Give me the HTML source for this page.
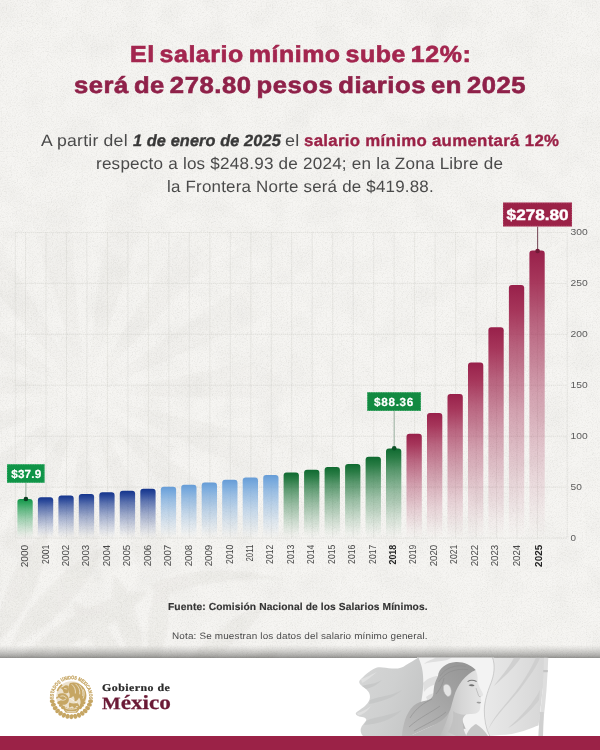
<!DOCTYPE html>
<html lang="es">
<head>
<meta charset="utf-8">
<title>El salario mínimo sube 12%</title>
<style>
html,body{margin:0;padding:0}
body{width:600px;height:750px;overflow:hidden;position:relative;background:#fff;font-family:"Liberation Sans",sans-serif}
h1,p{margin:0;font-weight:normal;font-size:inherit}
.t{position:absolute;white-space:pre;line-height:1;transform-origin:0 0;display:block;text-rendering:geometricPrecision}
.paper{position:absolute;left:0;top:0;width:600px;height:657.5px;background:#f5f4f1;overflow:hidden}
.paper .shade{position:absolute;left:0;bottom:0;width:600px;height:12.5px;background:linear-gradient(to bottom,rgba(80,80,78,0) 0%,rgba(80,80,78,.10) 25%,rgba(80,80,78,.26) 55%,rgba(80,80,78,.46) 85%,rgba(80,80,78,.62) 100%)}
.chart,.illus,.seal,.tex{position:absolute;left:0;top:0}
.rays{position:absolute;left:0;top:0;width:600px;height:658px;background:repeating-conic-gradient(from 8deg at 85px 395px,rgba(110,105,95,.03) 0deg 10deg,rgba(110,105,95,0) 12deg 22deg,rgba(110,105,95,.03) 24deg);-webkit-mask-image:radial-gradient(circle at 85px 395px,transparent 25px,#000 70px,#000 140px,transparent 225px);mask-image:radial-gradient(circle at 85px 395px,transparent 25px,#000 70px,#000 140px,transparent 225px)}
.band{position:absolute;left:0;top:735.7px;width:600px;height:14.3px;background:#9b2247}
</style>
</head>
<body>
<div class="paper"><div class="rays"></div><svg class="tex" width="600" height="658" viewBox="0 0 600 658" aria-hidden="true">
<defs>
<filter id="grain" x="0" y="0" width="100%" height="100%" color-interpolation-filters="sRGB">
<feTurbulence type="fractalNoise" baseFrequency="0.8" numOctaves="3" seed="7" result="n"/>
<feColorMatrix in="n" type="matrix" values="0 0 0 0 0.35  0 0 0 0 0.35  0 0 0 0 0.33  1.6 1.6 1.6 0 -2.25"/>
</filter>
<filter id="grain2" x="0" y="0" width="100%" height="100%" color-interpolation-filters="sRGB">
<feTurbulence type="fractalNoise" baseFrequency="0.55" numOctaves="2" seed="23" result="n"/>
<feColorMatrix in="n" type="matrix" values="0 0 0 0 1  0 0 0 0 1  0 0 0 0 1  1.4 1.4 1.4 0 -1.9"/>
</filter>
<filter id="mott" x="0" y="0" width="100%" height="100%" color-interpolation-filters="sRGB">
<feTurbulence type="fractalNoise" baseFrequency="0.035" numOctaves="2" seed="4" result="n"/>
<feColorMatrix in="n" type="matrix" values="0 0 0 0 0.55  0 0 0 0 0.55  0 0 0 0 0.52  1.2 1.2 1.2 0 -1.6"/>
</filter>
<filter id="pblur" x="-10%" y="-10%" width="120%" height="120%"><feGaussianBlur stdDeviation="1.2"/></filter>
</defs>
<g filter="url(#pblur)" fill="#e2e0db" opacity=".32">
<path d="M-17 643 C2 614 5 554 -7 531 C-23 552 -30 611 -17 643 Z"/>
<path d="M-3 642 C27 619 52 558 47 529 C22 545 -6 605 -3 642 Z"/>
<path d="M11 647 C48 633 96 579 103 548 C72 557 22 608 11 647 Z"/>
<path d="M22 658 C64 656 130 618 148 591 C115 590 47 624 22 658 Z"/>
<path d="M26 673 C65 683 138 670 163 651 C133 641 60 651 26 673 Z"/>
<path d="M124 685 C110 661 68 638 46 640 C55 660 96 685 124 685 Z"/>
<path d="M131 675 C127 646 95 608 73 601 C74 625 104 665 131 675 Z"/>
<path d="M141 669 C148 640 133 590 114 575 C107 598 119 648 141 669 Z"/>
<path d="M153 669 C170 646 174 596 163 576 C149 593 142 643 153 669 Z"/>
<path d="M179 676 C211 667 256 628 265 604 C240 608 193 646 179 676 Z"/>
<path d="M183 688 C213 690 266 669 282 652 C258 649 205 667 183 688 Z"/>
<path d="M150 585 C190 566 240 566 285 580 C245 578 195 582 158 598 Z"/>
</g>
<rect width="600" height="658" filter="url(#mott)" opacity=".05"/>
<rect width="600" height="658" filter="url(#grain)" opacity=".075"/>
<rect width="600" height="658" filter="url(#grain2)" opacity=".22"/>
</svg><div class="shade"></div></div>
<h1><span class="t" style="left:130.22px;top:43.26px;font-size:23.2px;letter-spacing:0.5px;color:#a3264f;transform:scaleX(1.0764);word-spacing:-2.4px;font-weight:bold;-webkit-text-stroke:.65px currentColor;">El salario mínimo sube 12%:</span> <span class="t" style="left:73.6px;top:74.36px;font-size:23.2px;letter-spacing:0.5px;color:#8f2149;transform:scaleX(1.1037);word-spacing:-2.4px;font-weight:bold;-webkit-text-stroke:.65px currentColor;">será de 278.80 pesos diarios en 2025</span></h1>
<p><span class="t" style="left:41.3px;top:132.63px;font-size:16.5px;letter-spacing:0.2px;color:#4a4a4a;transform:scaleX(1.0675);">A partir del</span> <em class="t" style="left:132.5px;top:132.8px;font-size:16.3px;letter-spacing:0.1px;color:#383838;transform:scaleX(1.002);font-weight:bold;font-style:italic;-webkit-text-stroke:.35px currentColor;">1 de enero de 2025</em> <span class="t" style="left:285.21px;top:132.63px;font-size:16.5px;letter-spacing:0.2px;color:#4a4a4a;transform:scaleX(1.0909);">el</span> <strong class="t" style="left:303.67px;top:132.8px;font-size:16.3px;letter-spacing:0.3px;color:#9b2247;transform:scaleX(1.0325);font-weight:bold;-webkit-text-stroke:.35px currentColor;">salario mínimo aumentará 12%</strong> <span class="t" style="left:96.16px;top:155.53px;font-size:16.5px;letter-spacing:0.2px;color:#4a4a4a;transform:scaleX(1.0366);">respecto a los $248.93 de 2024; en la Zona Libre de</span> <span class="t" style="left:167.07px;top:178.53px;font-size:16.5px;letter-spacing:0.2px;color:#4a4a4a;transform:scaleX(1.0268);">la Frontera Norte será de $419.88.</span></p>
<svg class="chart" width="600" height="750" viewBox="0 0 600 750">
<defs><linearGradient id="g1" x1="0" y1="0" x2="0" y2="1"><stop offset="0" stop-color="#12964a" stop-opacity="1.0"/><stop offset="0.1" stop-color="#1f9e52" stop-opacity="0.93"/><stop offset="0.25" stop-color="#1f9e52" stop-opacity="0.7"/><stop offset="0.5" stop-color="#1f9e52" stop-opacity="0.4"/><stop offset="0.75" stop-color="#1f9e52" stop-opacity="0.17"/><stop offset="0.92" stop-color="#1f9e52" stop-opacity="0.04"/><stop offset="1" stop-color="#1f9e52" stop-opacity="0"/></linearGradient><linearGradient id="b1" x1="0" y1="0" x2="0" y2="1"><stop offset="0" stop-color="#14348c" stop-opacity="1.0"/><stop offset="0.1" stop-color="#1f3f95" stop-opacity="0.93"/><stop offset="0.25" stop-color="#1f3f95" stop-opacity="0.7"/><stop offset="0.5" stop-color="#1f3f95" stop-opacity="0.4"/><stop offset="0.75" stop-color="#1f3f95" stop-opacity="0.17"/><stop offset="0.92" stop-color="#1f3f95" stop-opacity="0.04"/><stop offset="1" stop-color="#1f3f95" stop-opacity="0"/></linearGradient><linearGradient id="b2" x1="0" y1="0" x2="0" y2="1"><stop offset="0" stop-color="#669cd6" stop-opacity="1.0"/><stop offset="0.1" stop-color="#70a5dc" stop-opacity="0.93"/><stop offset="0.25" stop-color="#70a5dc" stop-opacity="0.7"/><stop offset="0.5" stop-color="#70a5dc" stop-opacity="0.4"/><stop offset="0.75" stop-color="#70a5dc" stop-opacity="0.17"/><stop offset="0.92" stop-color="#70a5dc" stop-opacity="0.04"/><stop offset="1" stop-color="#70a5dc" stop-opacity="0"/></linearGradient><linearGradient id="g2" x1="0" y1="0" x2="0" y2="1"><stop offset="0" stop-color="#0f6a30" stop-opacity="1.0"/><stop offset="0.1" stop-color="#197237" stop-opacity="0.93"/><stop offset="0.25" stop-color="#197237" stop-opacity="0.7"/><stop offset="0.5" stop-color="#197237" stop-opacity="0.4"/><stop offset="0.75" stop-color="#197237" stop-opacity="0.17"/><stop offset="0.92" stop-color="#197237" stop-opacity="0.04"/><stop offset="1" stop-color="#197237" stop-opacity="0"/></linearGradient><linearGradient id="m" x1="0" y1="0" x2="0" y2="1"><stop offset="0" stop-color="#98204a" stop-opacity="1.0"/><stop offset="0.1" stop-color="#a0274f" stop-opacity="0.93"/><stop offset="0.25" stop-color="#a0274f" stop-opacity="0.7"/><stop offset="0.5" stop-color="#a0274f" stop-opacity="0.4"/><stop offset="0.75" stop-color="#a0274f" stop-opacity="0.17"/><stop offset="0.92" stop-color="#a0274f" stop-opacity="0.04"/><stop offset="1" stop-color="#a0274f" stop-opacity="0"/></linearGradient></defs>
<g stroke="#c9c8c3" stroke-width="0.7" stroke-dasharray="1 1" fill="none" opacity=".85">
<line x1="15.3" y1="232.4" x2="567.2" y2="232.4"/>
<line x1="15.3" y1="283.4" x2="567.2" y2="283.4"/>
<line x1="15.3" y1="334.3" x2="567.2" y2="334.3"/>
<line x1="15.3" y1="385.2" x2="567.2" y2="385.2"/>
<line x1="15.3" y1="436.2" x2="567.2" y2="436.2"/>
<line x1="15.3" y1="487.1" x2="567.2" y2="487.1"/>
<line x1="15.3" y1="538.1" x2="567.2" y2="538.1"/>
<line x1="15.3" y1="232.4" x2="15.3" y2="538.4"/>
<line x1="567.2" y1="232.4" x2="567.2" y2="538.4"/>
<line x1="25.5" y1="232.4" x2="25.5" y2="538.4"/>
<line x1="46.0" y1="232.4" x2="46.0" y2="538.4"/>
<line x1="66.5" y1="232.4" x2="66.5" y2="538.4"/>
<line x1="86.9" y1="232.4" x2="86.9" y2="538.4"/>
<line x1="107.4" y1="232.4" x2="107.4" y2="538.4"/>
<line x1="127.9" y1="232.4" x2="127.9" y2="538.4"/>
<line x1="148.4" y1="232.4" x2="148.4" y2="538.4"/>
<line x1="168.9" y1="232.4" x2="168.9" y2="538.4"/>
<line x1="189.3" y1="232.4" x2="189.3" y2="538.4"/>
<line x1="209.8" y1="232.4" x2="209.8" y2="538.4"/>
<line x1="230.3" y1="232.4" x2="230.3" y2="538.4"/>
<line x1="250.8" y1="232.4" x2="250.8" y2="538.4"/>
<line x1="271.3" y1="232.4" x2="271.3" y2="538.4"/>
<line x1="291.7" y1="232.4" x2="291.7" y2="538.4"/>
<line x1="312.2" y1="232.4" x2="312.2" y2="538.4"/>
<line x1="332.7" y1="232.4" x2="332.7" y2="538.4"/>
<line x1="353.2" y1="232.4" x2="353.2" y2="538.4"/>
<line x1="373.7" y1="232.4" x2="373.7" y2="538.4"/>
<line x1="394.1" y1="232.4" x2="394.1" y2="538.4"/>
<line x1="414.6" y1="232.4" x2="414.6" y2="538.4"/>
<line x1="435.1" y1="232.4" x2="435.1" y2="538.4"/>
<line x1="455.6" y1="232.4" x2="455.6" y2="538.4"/>
<line x1="476.1" y1="232.4" x2="476.1" y2="538.4"/>
<line x1="496.5" y1="232.4" x2="496.5" y2="538.4"/>
<line x1="517.0" y1="232.4" x2="517.0" y2="538.4"/>
<line x1="537.5" y1="232.4" x2="537.5" y2="538.4"/>
</g>
<path d="M17.4 538.0 V502.1 a3 3 0 0 1 3 -3 h9.3 a3 3 0 0 1 3 3 V538.0 z" fill="url(#g1)"/>
<path d="M37.9 538.0 V500.2 a3 3 0 0 1 3 -3 h9.3 a3 3 0 0 1 3 3 V538.0 z" fill="url(#b1)"/>
<path d="M58.4 538.0 V498.4 a3 3 0 0 1 3 -3 h9.3 a3 3 0 0 1 3 3 V538.0 z" fill="url(#b1)"/>
<path d="M78.8 538.0 V496.9 a3 3 0 0 1 3 -3 h9.3 a3 3 0 0 1 3 3 V538.0 z" fill="url(#b1)"/>
<path d="M99.3 538.0 V495.2 a3 3 0 0 1 3 -3 h9.3 a3 3 0 0 1 3 3 V538.0 z" fill="url(#b1)"/>
<path d="M119.8 538.0 V493.7 a3 3 0 0 1 3 -3 h9.3 a3 3 0 0 1 3 3 V538.0 z" fill="url(#b1)"/>
<path d="M140.3 538.0 V491.8 a3 3 0 0 1 3 -3 h9.3 a3 3 0 0 1 3 3 V538.0 z" fill="url(#b1)"/>
<path d="M160.8 538.0 V489.8 a3 3 0 0 1 3 -3 h9.3 a3 3 0 0 1 3 3 V538.0 z" fill="url(#b2)"/>
<path d="M181.2 538.0 V487.8 a3 3 0 0 1 3 -3 h9.3 a3 3 0 0 1 3 3 V538.0 z" fill="url(#b2)"/>
<path d="M201.7 538.0 V485.5 a3 3 0 0 1 3 -3 h9.3 a3 3 0 0 1 3 3 V538.0 z" fill="url(#b2)"/>
<path d="M222.2 538.0 V482.8 a3 3 0 0 1 3 -3 h9.3 a3 3 0 0 1 3 3 V538.0 z" fill="url(#b2)"/>
<path d="M242.7 538.0 V480.4 a3 3 0 0 1 3 -3 h9.3 a3 3 0 0 1 3 3 V538.0 z" fill="url(#b2)"/>
<path d="M263.2 538.0 V477.9 a3 3 0 0 1 3 -3 h9.3 a3 3 0 0 1 3 3 V538.0 z" fill="url(#b2)"/>
<path d="M283.6 538.0 V475.4 a3 3 0 0 1 3 -3 h9.3 a3 3 0 0 1 3 3 V538.0 z" fill="url(#g2)"/>
<path d="M304.1 538.0 V472.8 a3 3 0 0 1 3 -3 h9.3 a3 3 0 0 1 3 3 V538.0 z" fill="url(#g2)"/>
<path d="M324.6 538.0 V470.0 a3 3 0 0 1 3 -3 h9.3 a3 3 0 0 1 3 3 V538.0 z" fill="url(#g2)"/>
<path d="M345.1 538.0 V467.0 a3 3 0 0 1 3 -3 h9.3 a3 3 0 0 1 3 3 V538.0 z" fill="url(#g2)"/>
<path d="M365.6 538.0 V459.8 a3 3 0 0 1 3 -3 h9.3 a3 3 0 0 1 3 3 V538.0 z" fill="url(#g2)"/>
<path d="M386.0 538.0 V451.4 a3 3 0 0 1 3 -3 h9.3 a3 3 0 0 1 3 3 V538.0 z" fill="url(#g2)"/>
<path d="M406.5 538.0 V436.8 a3 3 0 0 1 3 -3 h9.3 a3 3 0 0 1 3 3 V538.0 z" fill="url(#m)"/>
<path d="M427.0 538.0 V415.9 a3 3 0 0 1 3 -3 h9.3 a3 3 0 0 1 3 3 V538.0 z" fill="url(#m)"/>
<path d="M447.5 538.0 V397.1 a3 3 0 0 1 3 -3 h9.3 a3 3 0 0 1 3 3 V538.0 z" fill="url(#m)"/>
<path d="M468.0 538.0 V365.4 a3 3 0 0 1 3 -3 h9.3 a3 3 0 0 1 3 3 V538.0 z" fill="url(#m)"/>
<path d="M488.4 538.0 V330.3 a3 3 0 0 1 3 -3 h9.3 a3 3 0 0 1 3 3 V538.0 z" fill="url(#m)"/>
<path d="M508.9 538.0 V288.1 a3 3 0 0 1 3 -3 h9.3 a3 3 0 0 1 3 3 V538.0 z" fill="url(#m)"/>
<path d="M529.4 538.0 V253.5 a3 3 0 0 1 3 -3 h9.3 a3 3 0 0 1 3 3 V538.0 z" fill="url(#m)"/>
<g font-family="'Liberation Sans',sans-serif" font-size="9.8" fill="#5c5c5c">
<text x="570.5" y="234.9" textLength="17.2" lengthAdjust="spacingAndGlyphs">300</text>
<text x="570.5" y="285.9" textLength="17.2" lengthAdjust="spacingAndGlyphs">250</text>
<text x="570.5" y="336.8" textLength="17.2" lengthAdjust="spacingAndGlyphs">200</text>
<text x="570.5" y="387.8" textLength="17.2" lengthAdjust="spacingAndGlyphs">150</text>
<text x="570.5" y="438.7" textLength="17.2" lengthAdjust="spacingAndGlyphs">100</text>
<text x="570.5" y="489.6" textLength="11.3" lengthAdjust="spacingAndGlyphs">50</text>
<text x="570.5" y="540.6" textLength="5.5" lengthAdjust="spacingAndGlyphs">0</text>
</g>
<g font-family="'Liberation Sans',sans-serif" font-size="10.1" text-rendering="geometricPrecision" fill="#484848" text-anchor="end">
<text transform="translate(28.10 544.8) rotate(-90)" textLength="22.5" lengthAdjust="spacingAndGlyphs">2000</text>
<text transform="translate(48.54 544.8) rotate(-90)" textLength="19.1" lengthAdjust="spacingAndGlyphs">2001</text>
<text transform="translate(68.98 544.8) rotate(-90)" textLength="21.5" lengthAdjust="spacingAndGlyphs">2002</text>
<text transform="translate(89.42 544.8) rotate(-90)" textLength="21.5" lengthAdjust="spacingAndGlyphs">2003</text>
<text transform="translate(109.86 544.8) rotate(-90)" textLength="21.5" lengthAdjust="spacingAndGlyphs">2004</text>
<text transform="translate(130.30 544.8) rotate(-90)" textLength="21.5" lengthAdjust="spacingAndGlyphs">2005</text>
<text transform="translate(150.74 544.8) rotate(-90)" textLength="21.5" lengthAdjust="spacingAndGlyphs">2006</text>
<text transform="translate(171.18 544.8) rotate(-90)" textLength="21.5" lengthAdjust="spacingAndGlyphs">2007</text>
<text transform="translate(191.62 544.8) rotate(-90)" textLength="21.5" lengthAdjust="spacingAndGlyphs">2008</text>
<text transform="translate(212.06 544.8) rotate(-90)" textLength="21.5" lengthAdjust="spacingAndGlyphs">2009</text>
<text transform="translate(232.50 544.8) rotate(-90)" textLength="19.1" lengthAdjust="spacingAndGlyphs">2010</text>
<text transform="translate(252.94 544.8) rotate(-90)" textLength="16.7" lengthAdjust="spacingAndGlyphs">2011</text>
<text transform="translate(273.38 544.8) rotate(-90)" textLength="19.1" lengthAdjust="spacingAndGlyphs">2012</text>
<text transform="translate(293.82 544.8) rotate(-90)" textLength="19.1" lengthAdjust="spacingAndGlyphs">2013</text>
<text transform="translate(314.26 544.8) rotate(-90)" textLength="19.1" lengthAdjust="spacingAndGlyphs">2014</text>
<text transform="translate(334.70 544.8) rotate(-90)" textLength="19.1" lengthAdjust="spacingAndGlyphs">2015</text>
<text transform="translate(355.14 544.8) rotate(-90)" textLength="19.1" lengthAdjust="spacingAndGlyphs">2016</text>
<text transform="translate(375.58 544.8) rotate(-90)" textLength="19.1" lengthAdjust="spacingAndGlyphs">2017</text>
<text transform="translate(396.02 544.8) rotate(-90)" textLength="19.7" lengthAdjust="spacingAndGlyphs" font-weight="bold" fill="#262626">2018</text>
<text transform="translate(416.46 544.8) rotate(-90)" textLength="19.1" lengthAdjust="spacingAndGlyphs">2019</text>
<text transform="translate(436.90 544.8) rotate(-90)" textLength="21.5" lengthAdjust="spacingAndGlyphs">2020</text>
<text transform="translate(457.34 544.8) rotate(-90)" textLength="19.1" lengthAdjust="spacingAndGlyphs">2021</text>
<text transform="translate(477.78 544.8) rotate(-90)" textLength="21.5" lengthAdjust="spacingAndGlyphs">2022</text>
<text transform="translate(498.22 544.8) rotate(-90)" textLength="21.5" lengthAdjust="spacingAndGlyphs">2023</text>
<text transform="translate(519.56 544.8) rotate(-90)" textLength="21.5" lengthAdjust="spacingAndGlyphs">2024</text>
<text transform="translate(541.50 544.8) rotate(-90)" textLength="22.1" lengthAdjust="spacingAndGlyphs" font-weight="bold" fill="#262626">2025</text>
</g>
<line x1="25.9" y1="482.8" x2="25.9" y2="499.0" stroke="#a5b8aa" stroke-width="1.1"/>
<circle cx="25.9" cy="499.0" r="2.3" fill="#0a3d20"/>
<rect x="7" y="464.2" width="37.6" height="18.6" fill="#0f9447"/>
<rect x="7.4" y="464.59999999999997" width="36.8" height="17.8" fill="none" stroke="#7fd0a0" stroke-width="0.8" stroke-dasharray="1.2 1.2" opacity="0.55"/>
<text x="11.2" y="478.2" font-family="'Liberation Sans',sans-serif" font-weight="bold" font-size="11.7" fill="#fff" stroke="#fff" stroke-width="0.2" text-rendering="geometricPrecision" textLength="30" lengthAdjust="spacing">$37.9</text>
<line x1="394.2" y1="410.9" x2="394.2" y2="448.2" stroke="#a5b8aa" stroke-width="1.1"/>
<circle cx="394.2" cy="448.2" r="2.3" fill="#0c5228"/>
<rect x="367.2" y="392.2" width="53.7" height="18.7" fill="#128a41"/>
<rect x="367.59999999999997" y="392.59999999999997" width="52.9" height="17.9" fill="none" stroke="#7fd0a0" stroke-width="0.8" stroke-dasharray="1.2 1.2" opacity="0.55"/>
<text x="374" y="406.2" font-family="'Liberation Sans',sans-serif" font-weight="bold" font-size="11.7" fill="#fff" stroke="#fff" stroke-width="0.2" text-rendering="geometricPrecision" textLength="39.3" lengthAdjust="spacing">$88.36</text>
<line x1="537.6" y1="226.5" x2="537.6" y2="251.0" stroke="#7d5260" stroke-width="1.1"/>
<circle cx="537.6" cy="251.0" r="2.3" fill="#6f1a36"/>
<rect x="503" y="202.5" width="69.0" height="24.0" fill="#9b2247"/>
<rect x="503.4" y="202.9" width="68.2" height="23.2" fill="none" stroke="#d88aa4" stroke-width="0.8" stroke-dasharray="1.2 1.2" opacity="0.55"/>
<text x="506.6" y="220.1" font-family="'Liberation Sans',sans-serif" font-weight="bold" font-size="15.2" fill="#fff" stroke="#fff" stroke-width="0.45" text-rendering="geometricPrecision" textLength="62.0" lengthAdjust="spacingAndGlyphs">$278.80</text>
</svg>
<p><strong class="t" style="left:168.19px;top:603.17px;font-size:10.2px;letter-spacing:0.1px;color:#333;transform:scaleX(1.0066);font-weight:bold;-webkit-text-stroke:.15px currentColor;">Fuente: Comisión Nacional de los Salarios Mínimos.</strong></p>
<p><span class="t" style="left:172.33px;top:632.33px;font-size:9.3px;letter-spacing:0.15px;color:#4a4a4a;transform:scaleX(1.0664);">Nota: Se muestran los datos del salario mínimo general.</span></p>
<footer>
<svg class="illus" width="600" height="750" viewBox="0 0 600 750" aria-hidden="true">
<defs>
<clipPath id="fc"><rect x="340" y="657.5" width="230" height="78.5"/></clipPath>
<filter id="soft" x="-5%" y="-5%" width="110%" height="110%"><feGaussianBlur stdDeviation="0.35"/></filter>
<filter id="soft2" x="-20%" y="-20%" width="140%" height="140%"><feGaussianBlur stdDeviation="1.2"/></filter>
<linearGradient id="fl" x1="0" y1="0" x2="1" y2="0.4"><stop offset="0" stop-color="#d6d7d7"/><stop offset="0.6" stop-color="#cfd0d0"/><stop offset="1" stop-color="#c6c7c7"/></linearGradient>
<linearGradient id="fr" x1="0" y1="0" x2="1" y2="0"><stop offset="0" stop-color="#e9e9e9"/><stop offset="0.5" stop-color="#e0e0e0"/><stop offset="1" stop-color="#d6d6d6"/></linearGradient>
<linearGradient id="hair" x1="1" y1="0" x2="0" y2="1"><stop offset="0" stop-color="#939393"/><stop offset="0.45" stop-color="#a4a4a4"/><stop offset="1" stop-color="#bcbcbc"/></linearGradient>
<linearGradient id="skin" x1="0" y1="0" x2="1" y2="0"><stop offset="0" stop-color="#bcbcbc"/><stop offset="0.5" stop-color="#d6d6d6"/><stop offset="1" stop-color="#e6e6e6"/></linearGradient>
</defs>
<g clip-path="url(#fc)" filter="url(#soft)">
<!-- flag, middle (white) panel -->
<path d="M417 657 L494 657 C496 668 493 680 488 692 C484 704 483 718 486 728 L489 736 L400 736 L420 700 Z" fill="#f3f3f3"/>
<path d="M424 664 C432 661 440 662 447 660 L452 657.5 L436 657.5 C431 660 427 661 424 664 Z M423 683 C428 678 434 676 438 676 L437 684 C432 685 428 687 424 692 Z M426 697 C430 694 433 693 435 693 L434 699 L428 702 Z" fill="#d9d9d9" opacity=".8"/>
<!-- flag, right panel -->
<path d="M492.5 657.5 C495.5 666 494 675 491 683 C487 693 484.5 702 484.3 710 C484.2 720 486 729 489.7 736 L500 735 C510 735 520 732.5 529 729 C533 727.5 536 726 538.5 725.5 L546.5 657.5 Z" fill="url(#fr)"/>
<path d="M521 657.5 C514 668 503 678 494 686 C498 680 508 670 514 657.5 Z M536 657.5 C530 672 518 690 504 706 C497 714 491 722 488 730 C495 716 510 702 521 688 C530 676 537 666 540 657.5 Z M540 690 C534 702 522 716 508 728 C516 724 530 712 539 700 Z" fill="#cdcdcd" opacity=".85"/>
<path d="M492.5 657.5 C495.5 666 494 675 491 683 C487 693 484.5 702 484.3 710 C484.2 720 486 729 489.7 736" fill="none" stroke="#b4b4b4" stroke-width=".6"/>
<!-- pole -->
<path d="M544 657.5 L548.3 657.5 L547.6 672 L546.5 690 L545 706 L543.2 722 L542.6 736 L538.4 736 L539.2 722 L541 706 L542.6 690 L543.6 672 Z" fill="#dedede"/>
<path d="M543.2 670 h4.6 v2.2 h-4.6 z" fill="#c4c4c4"/>
<path d="M539.6 712 L543.8 712 L543 736 L538.6 736 Z" fill="#d0d0d0"/>
<!-- flag, left panel -->
<path d="M418.5 657.5 C414 660 410 663 406 665 C402 668 398 669 392 668.5 C386 668 381 666.5 377 667.5 C372 669 366 674 361 679 C358 681.5 359 683.5 362 686 C366 689 369 691 369.8 695 C370.5 699 369 702 365 706 C361 709.5 357 711.5 355.8 713 C355.5 715 358 716.5 362 717 C365.5 717.5 367 719 366 721 C364.5 723 361.5 725.5 360.7 729 C360.3 732 361.5 734.5 363 736 L412 736 C416 722 420 710 421.5 700 C423.5 690 424 678 422 668 C421 664 419.5 660 418.5 657.5 Z" fill="url(#fl)"/>
<path d="M362 686 C368 684 376 684 382 680 C376 686 370 688 366 689 Z M370 700 C380 696 392 696 402 690 C394 698 380 702 369 704 Z M366 721 C376 716 390 716 402 710 C392 720 378 724 364 725 Z" fill="#c2c3c3" opacity=".7"/>
<path d="M361 679 C366 678 372 674 377 672 C371 677 366 681 362 683 Z M357 713 C362 712 367 709 371 706 C367 712 362 715 358 715.5 Z" fill="#e2e2e2" opacity=".8"/>
<!-- shoulders / clothing -->
<path d="M449 711 C445 718 440 722 433 725.5 C426 729 418 732 410 736 L470 736 C466 730 463 724 462 718 Z" fill="#b9b9b9"/>
<path d="M461 731 C463 729 466 728 468 729 L470 736 L459 736 Z" fill="#f0f0f0"/>
<path d="M466 736 C468 730 472 726 476 724 C481 727 485 731 488 736 Z" fill="#c6c6c6"/>
<!-- neck + face -->
<path d="M475.5 670 C477 673 477.8 676 477.6 679 C477.5 681 477.8 683 478.6 685 C480 688.5 482 691.5 483.2 694.2 C483.4 695.6 482 696.4 480.4 696.8 C480.6 698.4 481.4 699.6 481.2 701 C481 702.2 480.2 703 480.3 704.2 C480.6 706 480.4 708.5 479.6 710.2 C478.4 712.6 476.4 713.6 474 713.8 C471 714 468.4 714 466 714.6 C464 716 462.6 718.6 462.3 721 C462 725 463.6 730.6 466.4 736 L440 736 C444 728 448 718 450 710 C450.5 704 451.5 698 453.5 694 C455 688 458 683 462 679 C466 675 471 672 475.5 670 Z" fill="url(#skin)"/>
<path d="M466 714.6 C462 715 457 714 453 711 C454 718 452 726 448 732 L456 736 L466.4 736 C463.6 730.6 462 725 462.3 721 C462.6 718.6 464 716 466 714.6 Z" fill="#bdbdbd" opacity=".7"/>
<path d="M467.6 681.6 C470 680 473.6 680 476.6 681.6" fill="none" stroke="#777" stroke-width="1.1"/>
<path d="M468.6 685.2 C470.2 684 472.8 684 474.6 685.4 C472.8 686.6 470.4 686.6 468.6 685.2 Z" fill="#6f6f6f"/>
<path d="M476 688 C476.8 691 478 693.4 478.4 695.4" fill="none" stroke="#b0b0b0" stroke-width=".7"/>
<path d="M476.4 702.4 C478 701.6 480 701.8 481.2 702.4 C480.4 703.8 478 704 476.4 702.4 Z" fill="#9c9c9c"/>
<path d="M478.4 695.6 C479 696.4 479.8 696.8 480.6 696.8" fill="none" stroke="#9a9a9a" stroke-width=".6"/>
<!-- hair -->
<path d="M438 676 C438.5 668.5 446 662.5 456 662 C464 661.7 471 665 475.7 670 C471 672 466 676 462.2 680.6 C458.4 685.4 455.6 691 454 696.6 C452.6 701 451.6 706 450.2 710 C447.4 716 443 720.6 436 724.2 C428 728 418 731.6 410 736 L402 736 C402.2 731 403.4 725 405 720 C406.6 715 409.6 709.6 413.6 705.8 C417 702.6 422 701.6 426.4 700.6 C430 699.6 432.6 697.6 433.2 695 C433.6 691 433.8 688 434.2 686 C435 682 436.6 679 438 676 Z" fill="url(#hair)"/>
<path d="M440 676 C445 668 455 664.4 466 666.4 M438.6 682 C444 673 454 668 468 669.6 M436 694 C441 688 443 683 444 678 M432 699 C424 703 416 708 410 718 M440 706 C432 712 420 717 409 727 M446 712 C438 719 426 724 414 731" fill="none" stroke="#8d8d8d" stroke-width=".8" opacity=".75"/>
<!-- ear -->
<path d="M443.4 686.6 C444 684.2 446.6 683.6 448.6 685 C450.6 686.6 451.6 690 451.2 693 C450.8 695.6 449 697 447.2 696.2 C445.4 695.2 443.8 692.4 443.4 689.6 Z" fill="#e4e4e4" stroke="#b5b5b5" stroke-width=".5"/>
</g>
</svg>
<svg class="seal" width="600" height="750" viewBox="0 0 600 750" role="img" aria-label="Escudo Nacional de México">
<defs>
<path id="arc" d="M53.60 698.97 A17.9 17.9 0 1 1 89.20 698.97"/>
<filter id="sb" x="-10%" y="-10%" width="120%" height="120%"><feGaussianBlur stdDeviation="0.28"/></filter>
</defs>
<g filter="url(#sb)" fill="#c6a664" transform="translate(71.4 697.1)">
<text font-family="'Liberation Sans',sans-serif" font-weight="bold" font-size="5" stroke="#c6a664" stroke-width="0.25" transform="translate(-71.4 -697.1)"><textPath href="#arc" startOffset="0" textLength="60.0" lengthAdjust="spacingAndGlyphs">ESTADOS UNIDOS MEXICANOS</textPath></text>
<circle cx="0" cy="-0.6" r="15.2" opacity=".32"/>
<ellipse cx="-19.17" cy="4.08" rx="2.0" ry="2.5" transform="rotate(-84.0 -19.17 4.08)"/>
<ellipse cx="-18.02" cy="7.70" rx="2.0" ry="2.5" transform="rotate(-95.1 -18.02 7.70)"/>
<ellipse cx="-16.19" cy="11.04" rx="2.0" ry="2.5" transform="rotate(-106.3 -16.19 11.04)"/>
<ellipse cx="-13.76" cy="13.96" rx="2.0" ry="2.5" transform="rotate(-117.4 -13.76 13.96)"/>
<ellipse cx="-10.80" cy="16.36" rx="2.0" ry="2.5" transform="rotate(-128.6 -10.80 16.36)"/>
<ellipse cx="-7.43" cy="18.14" rx="2.0" ry="2.5" transform="rotate(-139.7 -7.43 18.14)"/>
<ellipse cx="-3.79" cy="19.23" rx="2.0" ry="2.5" transform="rotate(-150.9 -3.79 19.23)"/>
<ellipse cx="-0.00" cy="19.60" rx="2.0" ry="2.5" transform="rotate(-162.0 -0.00 19.60)"/>
<ellipse cx="3.79" cy="19.23" rx="2.0" ry="2.5" transform="rotate(-209.1 3.79 19.23)"/>
<ellipse cx="7.43" cy="18.14" rx="2.0" ry="2.5" transform="rotate(-220.3 7.43 18.14)"/>
<ellipse cx="10.80" cy="16.36" rx="2.0" ry="2.5" transform="rotate(-231.4 10.80 16.36)"/>
<ellipse cx="13.76" cy="13.96" rx="2.0" ry="2.5" transform="rotate(-242.6 13.76 13.96)"/>
<ellipse cx="16.19" cy="11.04" rx="2.0" ry="2.5" transform="rotate(-253.7 16.19 11.04)"/>
<ellipse cx="18.02" cy="7.70" rx="2.0" ry="2.5" transform="rotate(-264.9 18.02 7.70)"/>
<ellipse cx="19.17" cy="4.08" rx="2.0" ry="2.5" transform="rotate(-276.0 19.17 4.08)"/>
<ellipse cx="-12.05" cy="5.62" rx="1.5" ry="2.1" transform="rotate(-90.0 -12.05 5.62)"/>
<ellipse cx="-10.48" cy="8.19" rx="1.5" ry="2.1" transform="rotate(-103.0 -10.48 8.19)"/>
<ellipse cx="-8.37" cy="10.34" rx="1.5" ry="2.1" transform="rotate(-116.0 -8.37 10.34)"/>
<ellipse cx="-5.83" cy="11.95" rx="1.5" ry="2.1" transform="rotate(-129.0 -5.83 11.95)"/>
<ellipse cx="-2.99" cy="12.96" rx="1.5" ry="2.1" transform="rotate(-142.0 -2.99 12.96)"/>
<ellipse cx="-0.00" cy="13.30" rx="1.5" ry="2.1" transform="rotate(-155.0 -0.00 13.30)"/>
<ellipse cx="2.99" cy="12.96" rx="1.5" ry="2.1" transform="rotate(-218.0 2.99 12.96)"/>
<ellipse cx="5.83" cy="11.95" rx="1.5" ry="2.1" transform="rotate(-231.0 5.83 11.95)"/>
<ellipse cx="8.37" cy="10.34" rx="1.5" ry="2.1" transform="rotate(-244.0 8.37 10.34)"/>
<ellipse cx="10.48" cy="8.19" rx="1.5" ry="2.1" transform="rotate(-257.0 10.48 8.19)"/>
<ellipse cx="12.05" cy="5.62" rx="1.5" ry="2.1" transform="rotate(-270.0 12.05 5.62)"/>
<path d="M-1.5 -14.2 C3 -15.6 8.2 -14 11.4 -10.6 C14.4 -7.4 15.6 -3 14.6 1.2 C13.8 4.4 11.6 6.8 8.8 7.6 C9.6 5 9.2 2.4 7.6 0.4 C6.8 2.6 5 4.2 2.8 4.6 C3.6 2.6 3.2 0.4 1.8 -1.2 C0.8 0.2 -0.8 1 -2.4 0.8 C-1.4 -1 -1.4 -3.2 -2.6 -5 C-3.6 -6.6 -3.6 -8.8 -2.8 -10.6 C-2.6 -11.8 -2.2 -13.2 -1.5 -14.2 Z"/>
<path d="M-11.8 -9.4 L-8.2 -10.2 C-6.4 -12.2 -3.8 -12.2 -2.8 -10.6 C-3.8 -8.6 -3.6 -6.4 -2.6 -4.8 C-4 -3.6 -6 -3.4 -7.6 -4.2 C-8.2 -5.8 -8.6 -7.2 -9.4 -8 Z"/>
<path d="M-13.6 -2.6 C-11 -4.4 -7.6 -4.4 -5.2 -2.6 C-3.2 -1.2 -2.2 1 -2.6 3.4 C-3 5.6 -4.6 7.2 -6.8 7.6 C-9.4 8 -12 6.6 -13.2 4.2 C-11.6 4.2 -10.2 3.4 -9.6 2 C-11.2 1.8 -12.8 0.6 -13.4 -1 Z"/>
<path d="M-2 5.4 C0.6 6.6 3.6 6.6 6.2 5.6 L8.4 9.4 L5 9 L3.4 11.6 L0.8 9.2 L-2.2 10.6 L-2.6 7.6 Z"/>
<path d="M-9.4 9.6 C-6 11.2 -2 11.8 1.6 11.4 C4.8 11 7.8 9.8 10 8 L10.8 10.2 C8.4 12.4 5 13.6 1.6 13.8 C-2.4 14 -6.6 13 -10 10.8 Z"/>
<path d="M-7 13.6 h14 l-1.4 2 h-11.2 z"/>
<path d="M-14.8 -6.2 C-13.8 -9 -12 -11.4 -9.6 -13 L-8.8 -11.6 C-10.8 -10.2 -12.4 -8.2 -13.2 -5.8 Z M-15.4 0.4 L-12.6 -1.4 L-12 0 L-14.8 1.8 Z"/>
</g>
<g filter="url(#sb)" fill="none" stroke="#fff" stroke-width="0.65" stroke-linecap="round" opacity=".9" transform="translate(71.4 697.1)">
<path d="M0.6 -12.6 C3.2 -10.4 4.4 -7.2 4 -4 M4.4 -13 C7.4 -10.6 8.8 -7 8.4 -3.2 M8.4 -11.4 C11 -8.6 12 -5 11.4 -1.4 M12 -7.4 C13.2 -4.6 13 -1.6 11.8 1.2 M-6.8 -8.6 L-5 -8.2 M-10.6 -1 C-8.4 -1.8 -6.2 -1 -5 0.8 M-10.4 2.8 C-8.6 3.6 -6.6 3.2 -5.4 1.8 M-1 1.2 L5.6 6 M-5.6 11.2 C-2.2 12.4 1.8 12.4 5.2 11.2 M-4.4 14.6 h8.8"/>
</g>
</svg>
<div><span class="t" style="left:101.7px;top:683.87px;font-size:10.3px;letter-spacing:0.4px;color:#2a2a2a;transform:scaleX(1.1569);font-weight:bold;-webkit-text-stroke:.2px currentColor;font-family:'Liberation Serif',serif;">Gobierno de</span> <span class="t" style="left:101.7px;top:692.58px;font-size:20.2px;letter-spacing:0px;color:#6b1a36;transform:scaleX(1.1492);font-weight:bold;-webkit-text-stroke:.25px currentColor;font-family:'Liberation Serif',serif;"><span style="font-size:17.2px">M</span>éxico</span></div>
<div class="band"></div>
</footer>
</body>
</html>
